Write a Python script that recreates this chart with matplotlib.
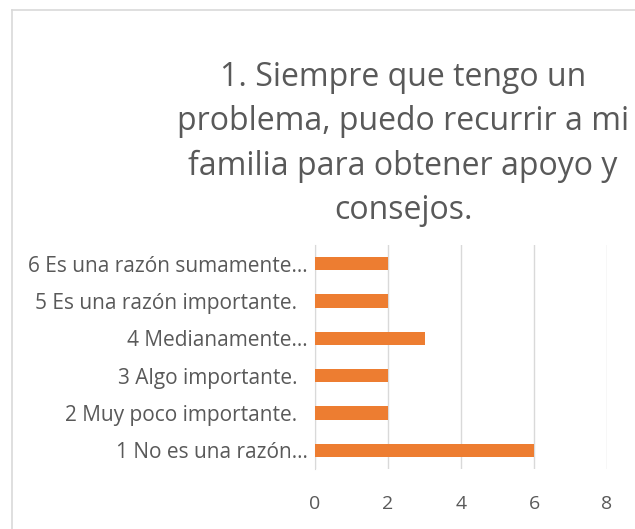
import matplotlib
matplotlib.use("Agg")
import matplotlib.pyplot as plt
from matplotlib.lines import Line2D

categories = ["1 No es una razón…", "2 Muy poco importante.  ", "3 Algo importante.  ",
              "4 Medianamente…", "5 Es una razón importante.  ", "6 Es una razón sumamente…"]
values = [6, 2, 2, 3, 2, 2]
xticks = [0, 2, 4, 6, 8]
title = "1. Siempre que tengo un\nproblema, puedo recurrir a mi\nfamilia para obtener apoyo y\nconsejos."

W, H = 635, 529
fig = plt.figure(figsize=(W/100, H/100), dpi=100)
fig.patch.set_facecolor("white")
font = "Open Sans"
txtc = "#595959"

# chart border (left and top visible)
fig.add_artist(Line2D([12/W, 12/W], [0, 1 - 10/H], color="#d9d9d9", lw=1.2, transform=fig.transFigure))
fig.add_artist(Line2D([12/W, 1], [1 - 10/H, 1 - 10/H], color="#d9d9d9", lw=1.2, transform=fig.transFigure))

left, right, top, bottom = 315, 607, 245, 469
ax = fig.add_axes([left/W, 1 - bottom/H, (right-left)/W, (bottom-top)/H])
y = list(range(len(categories)))
ax.barh(y, values, height=0.35, color="#ED7D31", zorder=3)
ax.set_xlim(0, 8)
ax.set_ylim(-0.5, len(categories) - 0.5)
ax.set_xticks(xticks)
ax.set_xticklabels([str(t) for t in xticks], fontsize=14, color=txtc, family=font)
ax.set_yticks(y)
ax.set_yticklabels(categories, fontsize=15, color=txtc, family=font)
ax.tick_params(axis="both", length=0)
ax.tick_params(axis="x", pad=19)
ax.tick_params(axis="y", pad=5)
ax.grid(axis="x", color="#d9d9d9", lw=1, zorder=0)
for s in ["top", "right", "bottom"]:
    ax.spines[s].set_visible(False)
ax.spines["left"].set_color("#d9d9d9")

fig.text(403/W, 1 - 144/H, title, ha="center", va="center", fontsize=23,
         color=txtc, family=font, linespacing=1.46)

fig.savefig("out.png", dpi=100)
